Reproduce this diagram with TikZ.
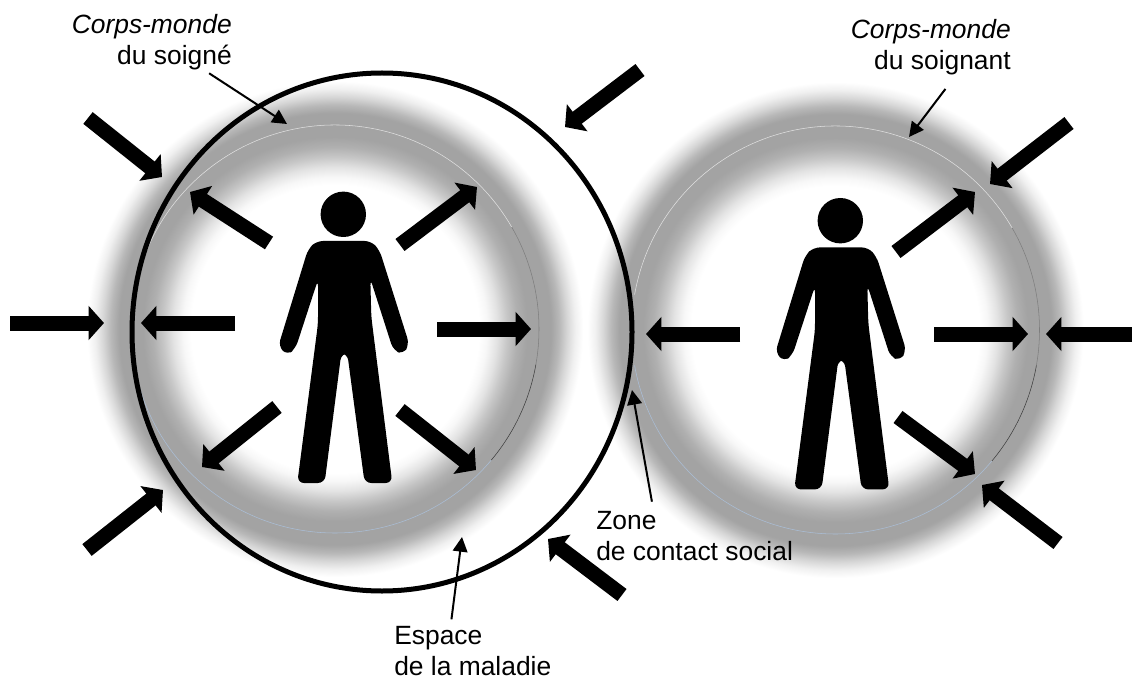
\documentclass[tikz,border=0pt]{standalone}
\usepackage{fontspec}
\setmainfont{Liberation Sans}
\usetikzlibrary{arrows.meta}
\pgfdeclareradialshading{ringshade}{\pgfpoint{0bp}{0bp}}{%
  color(0bp)=(white); color(14.4bp)=(white); color(15.2bp)=(black!3);
  color(16.2bp)=(black!11); color(17.2bp)=(black!22); color(18.2bp)=(black!31);
  color(19.2bp)=(black!36); color(21.6bp)=(black!36); color(22.4bp)=(black!28);
  color(23.2bp)=(black!16); color(24bp)=(black!6); color(24.8bp)=(white); color(50bp)=(white)}
\definecolor{ringwhite}{RGB}{225,225,225}
\definecolor{ringmid}{RGB}{125,125,125}
\definecolor{ringdark}{RGB}{60,60,60}
\definecolor{ringblue}{RGB}{170,190,215}
\tikzset{
  bigarrow/.style={line width=11.25pt,-{Triangle[length=11.5pt,width=25pt]}},
  leader/.style={line width=1.5pt,-{Triangle[length=11pt,width=11pt]}},
  thinring/.style={line width=0.4pt},
  label/.style={inner sep=0pt,font=\fontsize{19.8}{23.6}\selectfont},
  person/.pic={
    \fill (0,0) circle [radius=22.7];
    \fill[rounded corners=5pt] (-27,26.7) -- (28,26.7) -- (36.3,36) -- (66,130)
      -- (60,140) -- (50,136) -- (27,64.3) -- (28,102.7) -- (49,268.7)
      -- (21.3,268.7) -- (4,139) -- (-2,139) -- (-18.7,268.7) -- (-46,268.7)
      -- (-25.3,109.3) -- (-25.3,65.3) -- (-47.7,134) -- (-56,141) -- (-65,132)
      -- (-35.3,35) -- cycle;
  }
}
\begin{document}
\begin{tikzpicture}[x=0.75pt,y=-0.75pt]
    \useasboundingbox (0,0) rectangle (1132,681);

    % Grey rings
    \shade[shading=ringshade] (335,329) circle [radius=250];
    \shade[shading=ringshade] (835.5,330) circle [radius=250];

    % Thin circle of the left ring
    \draw[thinring,ringwhite] (335,329) ++(-170:204) arc [start angle=-170,end angle=-30,radius=204];
    \draw[thinring,ringmid] (335,329) ++(-30:204) arc [start angle=-30,end angle=10,radius=204];
    \draw[thinring,ringdark] (335,329) ++(10:204) arc [start angle=10,end angle=40,radius=204];
    \draw[thinring,ringblue] (335,329) ++(40:204) arc [start angle=40,end angle=170,radius=204];

    % Thin circle of the right ring
    \draw[thinring,ringwhite] (835.5,330) ++(-170:204) arc [start angle=-170,end angle=-30,radius=204];
    \draw[thinring,ringmid] (835.5,330) ++(-30:204) arc [start angle=-30,end angle=10,radius=204];
    \draw[thinring,ringdark] (835.5,330) ++(10:204) arc [start angle=10,end angle=40,radius=204];
    \draw[thinring,ringblue] (835.5,330) ++(40:204) arc [start angle=40,end angle=170,radius=204];

    % Space of the illness
    \draw[line width=3.75pt] (382,332) ellipse [x radius=250,y radius=259];

    % People
    \pic at (343.3,214.3) {person};
    \pic at (840.3,220.7) {person};

    % Arrows outside the left body
    \draw[bigarrow] (88,118) -- (162,177);
    \draw[bigarrow] (10,323) -- (104,323);
    \draw[bigarrow] (87,550) -- (163,490);
    \draw[bigarrow] (640,70) -- (565,127);
    \draw[bigarrow] (622,595) -- (548,539);

    % Arrows inside the left body
    \draw[bigarrow] (269,243) -- (190,192);
    \draw[bigarrow] (235,323) -- (141,323);
    \draw[bigarrow] (400,245) -- (477,187);
    \draw[bigarrow] (437,329) -- (531,329);
    \draw[bigarrow] (277,407) -- (202,467);
    \draw[bigarrow] (400,410) -- (476,470);

    % Arrows of the right body
    \draw[bigarrow] (896,252) -- (975,192);
    \draw[bigarrow] (934,334) -- (1028,334);
    \draw[bigarrow] (898,417) -- (975,474);
    \draw[bigarrow] (1069,123) -- (990,184);
    \draw[bigarrow] (1132,334) -- (1046,334);
    \draw[bigarrow] (1058,543) -- (982,485);
    \draw[bigarrow] (740,334) -- (646,334);

    % Labels
    \node[label,anchor=north east,align=right] (soigne) at (232,14) {\textit{Corps-monde}\\du soigné};
    \node[label,anchor=north east,align=right] (soignant) at (1011,19) {\textit{Corps-monde}\\du soignant};
    \node[label,anchor=north west,align=left] (zone) at (596,511) {Zone\\de contact social};
    \node[label,anchor=north west,align=left] (espace) at (394,626) {Espace\\de la maladie};

    % Leaders
    \coordinate (tipsoigne) at (287,124);
    \coordinate (tipsoignant) at (909,137);
    \coordinate (tipzone) at (632,390);
    \coordinate (tipespace) at (462,537);
    \draw[leader] ([xshift=43pt,yshift=-2pt]soigne.south) -- (tipsoigne);
    \draw[leader] ([xshift=11pt,yshift=-10pt]soignant.south) -- (tipsoignant);
    \draw[leader] ([xshift=-32pt,yshift=7pt]zone.north) -- (tipzone);
    \draw[leader] ([xshift=-16pt,yshift=5pt]espace.north) -- (tipespace);
\end{tikzpicture}
\end{document}
